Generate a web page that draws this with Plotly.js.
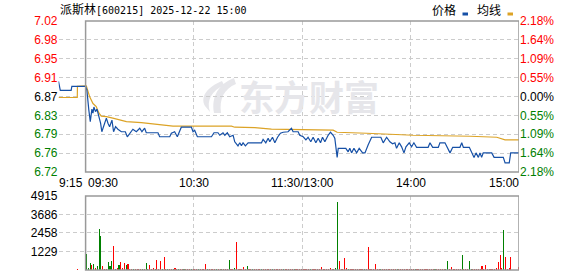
<!DOCTYPE html>
<html><head><meta charset="utf-8">
<script src="https://cdn.plot.ly/plotly-3.0.1.min.js"></script>
<style>html,body{margin:0;padding:0;background:#fff;}#chart{width:578px;height:276px;}</style>
</head><body><div id="chart"></div>
<script>
// ---------- data ----------
const stockName = "派斯林";
const stockCode = "600215";
const dateTime = "2025-12-22 15:00";
const seriesNames = ["价格", "均线"];
const prevClose = 6.87;
const priceTickLabels = ["6.72","6.76","6.79","6.83","6.87","6.91","6.95","6.98","7.02"];
const pctTickLabels = ["2.18%","1.64%","1.09%","0.55%","0.00%","0.55%","1.09%","1.64%","2.18%"];
const volTickLabels = ["0","1229","2458","3686","4915"];
const timeTickMinutes = [-15, 0, 60, 120, 180, 240];   // minutes from 09:30
const timeTickLabels = ["9:15","09:30","10:30","11:30/13:00","14:00","15:00"];

const priceMinutes = [-15,-14,-8,-7.6,0, 0.7,1.8,2.6,3.5,4.1, 4.6,5.5,6.3,7.4,8.3, 9.0,10.1,11.5,12.4,13.3,
 14.6,15.5,16.6,17.9,19.8, 22.0,23.1,24.4,26.2,28.1, 30.0,31.2,32.7,33.6,40.1, 41.0,46.6,47.5,49.3,50.8,
 52.1,53.0,58.6,59.5,60.4, 61.9,69.7,71.1,73.3,74.3, 76.1,77.1,78.5,79.8,81.7, 82.6,84.4,85.4,86.3,87.2,
 88.5,90.0,97.4,98.3,99.8, 101.1,102,103.5,104.8,106.3, 107.9,109.4,112.1,114.0,114.9, 117.7,118.6,120.5,122,123.2,
 124.7,126,127.5,128.8,130.1, 131.2,132.5,134.3,135.6,137.1, 138.0,139.3,139.9,144.1,145.4, 146.3,147.3,148.6,150.1,151.5,
 153.4,154.7,156.5,158.4,163.5, 164.8,166.7,168.5,170,171.3, 172.2,173.7,175,176.3,177.4, 179.2,180.5,181.8,183.3,189.7,
 190.7,192.2,195.3,196.2,199, 200.3,201.8,203.3,207.3,208.3, 209.2,212.5,213.8,215.1,216.2, 217.5,218.4,219.3,220.2,224.9,
 226.2,231.3,232.3,234.6,235.4, 240];
const prices = [6.900,6.882,6.882,6.890,6.890, 6.883,6.843,6.820,6.845,6.837, 6.849,6.840,6.845,6.831,6.817, 6.800,6.813,6.827,6.817,6.810,
 6.823,6.800,6.810,6.805,6.800, 6.800,6.790,6.797,6.805,6.800, 6.807,6.800,6.807,6.798,6.798, 6.790,6.790,6.797,6.800,6.790,
 6.800,6.809,6.809,6.800,6.803, 6.790,6.790,6.798,6.798,6.793, 6.798,6.793,6.798,6.790,6.793, 6.780,6.772,6.778,6.772,6.778,
 6.772,6.778,6.778,6.785,6.778, 6.787,6.780,6.789,6.778,6.789, 6.797,6.799,6.800,6.807,6.800, 6.800,6.793,6.790,6.784,6.789,
 6.780,6.789,6.778,6.787,6.778, 6.789,6.780,6.793,6.799,6.793, 6.787,6.749,6.767,6.767,6.760, 6.767,6.758,6.767,6.758,6.767,
 6.758,6.758,6.774,6.789,6.789, 6.778,6.789,6.780,6.776,6.778, 6.767,6.778,6.770,6.758,6.770, 6.778,6.770,6.778,6.769,6.769,
 6.778,6.769,6.769,6.778,6.778, 6.769,6.758,6.769,6.769,6.778, 6.769,6.769,6.758,6.749,6.758, 6.749,6.758,6.749,6.758,6.758,
 6.749,6.749,6.738,6.738,6.758, 6.758];

const avgMinutes = [-15,-4.6,-4.5,0.4,2.2, 4.1,5.9,7.4,8.7,11.5, 15.1,18.8,22.6,30.9,38.2, 42,48.4,80.8,82.6,93.7,
 102.9,137.1,139.3,155.6,181.4, 212.9,227.7,232.3,240];
const avgPrices = [6.868,6.868,6.890,6.891,6.870, 6.856,6.850,6.837,6.831,6.830, 6.827,6.823,6.820,6.818,6.815,
 6.813,6.811,6.811,6.809,6.808, 6.805,6.803,6.799,6.797,6.793, 6.791,6.789,6.784,6.784];

// call auction bar (09:25)
const auctionMinute = -5;
const auctionVolume = 66;
const auctionDir = "r";

// one bar per minute, 09:30 .. 14:59 (240 minutes)
const volumes = [
 1061,133,464,332,398,133,265,2718,2254,265,
 66,66,530,265,597,1591,66,133,332,530,
 133,464,332,398,70,66,80,66,70,66,
 70,66,80,464,70,332,66,133,70,663,
 70,597,66,862,70,66,80,70,66,133,
 66,70,80,66,70,66,66,80,70,66,
 70,66,80,66,70,66,398,66,70,80,
 66,70,66,80,66,70,66,70,66,663,
 66,70,133,1856,66,70,80,199,66,265,
 66,70,66,80,66,70,66,66,80,66,
 70,66,80,66,70,66,66,70,80,66,
 70,66,80,66,70,66,80,66,70,66,
 66,70,80,66,70,66,66,80,70,66,
 199,66,70,66,80,133,66,70,133,4508,
 597,66,80,796,133,66,70,66,66,80,
 66,70,66,80,66,70,1525,66,70,80,
 398,66,70,66,80,66,70,66,80,66,
 70,66,80,66,70,66,66,70,80,66,
 66,70,80,66,70,66,80,66,70,66,
 66,70,80,66,70,66,66,70,66,80,
 597,66,199,66,70,66,66,70,995,66,
 70,66,597,66,70,66,66,80,70,265,
 66,332,66,70,66,80,66,133,530,995,
 133,2652,862,66,133,862,0,0,0,199];
const volDir = (
 "gggrgrgggr"+"rrgggrgrgr"+"rrgrrrgrrr"+"rgrgrrrrgr"+"rrgrrgrrgr"+
 "rgrrgrrrgr"+"rrgrrrrgrr"+"rrgrrgrrrg"+"rrgrrrrrrg"+"rrgrrrrgrr"+
 "rrrgrrrrrg"+"rrrrrgrrrr"+"rrrrgrrrrr"+"rrrrrrrrgg"+"rrrrrgrrrr"+
 "rrrrgrrrrr"+"rrrgrrrrrr"+"rrgrrrrrrr"+"rrgrrrrrrr"+"rrrgrrrrrg"+
 "grrrrrrrgr"+"rrggrrrrrr"+"rrrrrrrrrr"+"rgrrrrrrrr").split("");

// ---------- styling / layout ----------
const W = 578, H = 276;
const fx = x => x / W, fy = y => 1 - y / H;
const RED = "#ff0000", GREEN = "#008000", BLUE = "#1650a6", ORANGE = "#dca326";
const GRID = "#cccccc";
const FRAME = "#999999";

const pNums = priceTickLabels.map(Number);
const pLo = Math.min(...pNums), pHi = Math.max(...pNums);
const pTickVals = pNums.map((_, k) => pLo + k * (pHi - pLo) / (pNums.length - 1));
const colorFor = v => Math.abs(v - prevClose) < 1e-9 ? "#000000" : (v > prevClose ? RED : GREEN);
const priceTickText = priceTickLabels.map(s => `<span style="color:${colorFor(Number(s))}">${s}</span>`);
const pctTickText = pctTickLabels.map((s, k) => `<span style="color:${colorFor(pNums[k])}">${s}</span>`);
const vNums = volTickLabels.map(Number);

const barX = [auctionMinute + 0.5].concat(volumes.map((_, i) => i + 0.5));
const barY = [auctionVolume].concat(volumes);
const barC = [auctionDir].concat(volDir).map(d => d === "r" ? RED : GREEN);

const traces = [
  {type: "scatter", mode: "lines", x: avgMinutes, y: avgPrices, xaxis: "x", yaxis: "y",
   line: {color: ORANGE, width: 1.2}, hoverinfo: "skip", name: seriesNames[1]},
  {type: "scatter", mode: "lines", x: priceMinutes, y: prices, xaxis: "x", yaxis: "y",
   line: {color: BLUE, width: 1.2}, hoverinfo: "skip", name: seriesNames[0]},
  {type: "scatter", mode: "lines", x: [pLo], y: [pLo], xaxis: "x", yaxis: "y3",
   hoverinfo: "skip", showlegend: false, line: {width: 0}},
  {type: "bar", x: barX, y: barY, xaxis: "x2", yaxis: "y2", width: 0.6,
   marker: {color: barC, line: {width: 0}}, hoverinfo: "skip"}
];

const xCommon = {
  domain: [fx(58.5), fx(519)], range: [-15, 240],
  tickvals: [-15, 60, 120, 180], showticklabels: false, ticks: "",
  showgrid: true, gridcolor: GRID, griddash: "4px,3px", gridwidth: 1,
  zeroline: false, showline: false, fixedrange: true
};
const tickFont = {family: "Liberation Sans, Arial, sans-serif", size: 12, color: "#000"};
const yCommon = {
  showgrid: true, gridcolor: GRID, griddash: "4px,3px", gridwidth: 1,
  zeroline: false, showline: false, ticks: "", tickfont: tickFont, fixedrange: true
};

const annotations = [];
// title
annotations.push({
  xref: "paper", yref: "paper", x: fx(58), y: fy(8), xanchor: "left", yanchor: "middle", showarrow: false,
  text: `<span style="font-family:'Noto Sans CJK SC';font-size:12px">${stockName}</span>` +
        `<span style="font-family:'DejaVu Sans Mono';font-size:10px">[${stockCode}] ${dateTime}</span>`,
  font: {family: "Noto Sans CJK SC", size: 12, color: "#000"}
});
// legend texts
[[443.5, seriesNames[0]], [488.5, seriesNames[1]]].forEach(([cx, t]) => annotations.push({
  xref: "paper", yref: "paper", x: fx(cx), y: fy(9), xanchor: "center", yanchor: "middle", showarrow: false,
  text: t, font: {family: "Noto Sans CJK SC", size: 12, color: "#000"}
}));
// time labels
const anchors = ["left", "left", "center", "center", "center", "right"];
const shifts = [-2, 0, 0, 0, 0, 2];
timeTickMinutes.forEach((m, k) => annotations.push({
  xref: "x", yref: "paper", x: m, y: fy(183), xanchor: anchors[k], yanchor: "middle", showarrow: false,
  xshift: shifts[k], text: timeTickLabels[k], font: tickFont
}));
// watermark
annotations.push({
  xref: "paper", yref: "paper", x: fx(309), y: fy(95), xanchor: "center", yanchor: "middle", showarrow: false,
  text: "东方财富", font: {family: "Noto Sans CJK SC", size: 35, color: "#e6e6ea", weight: 700}
});

const pathPx = pts => pts.map(s => {
  const [cmd, ...nums] = s;
  const out = [];
  for (let i = 0; i < nums.length; i += 2) out.push(fx(nums[i]).toFixed(5) + "," + fy(nums[i + 1]).toFixed(5));
  return cmd + " " + out.join(" ");
}).join(" ") + " Z";

const shapes = [
  // frames
  {type: "rect", xref: "x", yref: "paper", x0: 0, x1: 240, y0: fy(172), y1: fy(21), line: {color: FRAME, width: 1.5}},
  {type: "rect", xref: "x", yref: "paper", x0: 0, x1: 240, y0: fy(270), y1: fy(196), line: {color: FRAME, width: 1.5}},
  // legend markers
  {type: "rect", xref: "paper", yref: "paper", x0: fx(462.5), x1: fx(468), y0: fy(15.5), y1: fy(12.5), fillcolor: BLUE, line: {width: 0}},
  {type: "rect", xref: "paper", yref: "paper", x0: fx(507.5), x1: fx(513), y0: fy(15.5), y1: fy(12.5), fillcolor: ORANGE, line: {width: 0}},
  // watermark logo
  {type: "path", xref: "paper", yref: "paper", layer: "below", fillcolor: "#e6e6ea", line: {width: 0},
   path: pathPx([["M", 234, 78], ["C", 219, 84, 211, 96, 214, 113], ["L", 221, 113], ["C", 219, 99, 224, 89, 236, 84]])},
  {type: "path", xref: "paper", yref: "paper", layer: "below", fillcolor: "#e6e6ea", line: {width: 0},
   path: pathPx([["M", 222, 81], ["C", 207, 87, 200, 97, 205, 106], ["L", 210, 112], ["C", 206, 100, 212, 91, 224, 85]])}
];

const layout = {
  width: W, height: H, margin: {l: 0, r: 0, t: 0, b: 0},
  paper_bgcolor: "#ffffff", plot_bgcolor: "rgba(0,0,0,0)", showlegend: false,
  font: tickFont, bargap: 0,
  xaxis: Object.assign({}, xCommon, {anchor: "y"}),
  xaxis2: Object.assign({}, xCommon, {anchor: "y2", matches: "x"}),
  yaxis: Object.assign({}, yCommon, {domain: [fy(172), fy(21)], range: [pLo, pHi], tickvals: pTickVals, ticktext: priceTickText, anchor: "x"}),
  yaxis3: Object.assign({}, yCommon, {overlaying: "y", side: "right", anchor: "x", range: [pLo, pHi], tickvals: pTickVals, ticktext: pctTickText, showgrid: false}),
  yaxis2: Object.assign({}, yCommon, {domain: [fy(270), fy(196)], range: [0, Math.max(...vNums)], tickvals: vNums, ticktext: volTickLabels, anchor: "x2"}),
  annotations: annotations,
  shapes: shapes
};

Plotly.newPlot("chart", traces, layout, {staticPlot: true, displayModeBar: false});
</script></body></html>
